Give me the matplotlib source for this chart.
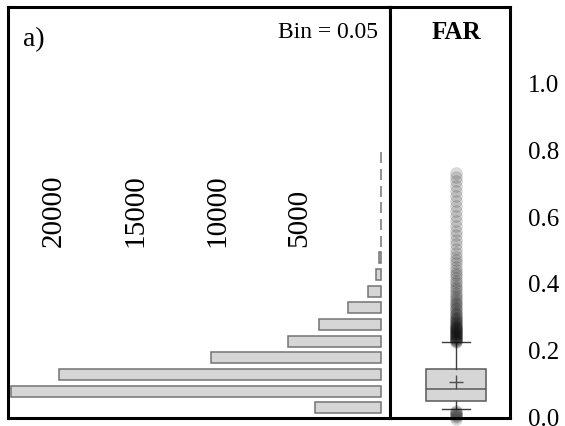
import matplotlib
matplotlib.use('Agg')
import matplotlib.pyplot as plt

plt.rcParams['font.family'] = ['Liberation Serif', 'DejaVu Serif']

# histogram of FAR, bin = 0.05
bin_centers = [0.025, 0.075, 0.125, 0.175, 0.225, 0.275, 0.325, 0.375,
               0.425, 0.475, 0.525, 0.575, 0.625, 0.675, 0.725, 0.775]
counts = [4050, 22600, 19700, 10400, 5700, 3800, 2000, 800,
          300, 100, 25, 15, 10, 6, 4, 2]
count_ticks = [20000, 15000, 10000, 5000]

# box plot summary of FAR
box_q1 = 0.045
box_med = 0.081
box_q3 = 0.141
box_mean = 0.102
whisker_lo = 0.021
whisker_hi = 0.222
fliers_hi = [0.222, 0.224, 0.226, 0.228, 0.230, 0.232, 0.234, 0.236, 0.238,
             0.240, 0.242, 0.244, 0.246, 0.248, 0.250, 0.252, 0.254, 0.256,
             0.258, 0.260, 0.262, 0.264, 0.266, 0.268, 0.270, 0.272, 0.275,
             0.278, 0.281, 0.284, 0.287, 0.290, 0.294, 0.298, 0.302, 0.306,
             0.310, 0.315, 0.320, 0.325, 0.330, 0.335, 0.340, 0.346, 0.352,
             0.358, 0.364, 0.370, 0.377, 0.384, 0.391, 0.398, 0.406, 0.414,
             0.422, 0.430, 0.439, 0.448, 0.458, 0.468, 0.478, 0.490, 0.502,
             0.515, 0.528, 0.542, 0.556, 0.570, 0.585, 0.600, 0.615, 0.630,
             0.645, 0.660, 0.675, 0.690, 0.705, 0.718, 0.730]
fliers_lo = [0.016, 0.013, 0.010, 0.007, 0.004, 0.001, -0.003, -0.008]
y_ticks = [0.0, 0.2, 0.4, 0.6, 0.8, 1.0]

fig = plt.figure(figsize=(5.65, 4.27), dpi=100)
ax1 = fig.add_axes([8 / 565, 8 / 427, 382 / 565, 411 / 427])
ax2 = fig.add_axes([390 / 565, 8 / 427, 120 / 565, 411 / 427], sharey=ax1)

ylim = (-0.006, 1.228)

# left: horizontal histogram growing to the left
ax1.barh(bin_centers, counts, height=0.033, color='#d6d6d6',
         edgecolor='0.45', linewidth=1.1)
ax1.set_xlim(22800, -550)
ax1.set_ylim(*ylim)
ax1.set_xticks([])
ax1.tick_params(axis='y', left=False, labelleft=False)
for t in count_ticks:
    ax1.text(t, 0.418, str(t), transform=ax1.get_xaxis_transform(),
             rotation=90, ha='center', va='bottom', fontsize=21)
ax1.text(0.04, 0.922, 'a)', transform=ax1.transAxes, fontsize=20,
         ha='left', va='center')
ax1.text(0.969, 0.94, 'Bin = 0.05', transform=ax1.transAxes, fontsize=17,
         ha='right', va='center')

# right: box plot
stats = [dict(med=box_med, q1=box_q1, q3=box_q3, mean=box_mean,
              whislo=whisker_lo, whishi=whisker_hi,
              fliers=fliers_hi + fliers_lo)]
ax2.bxp(stats, positions=[1], widths=0.55, capwidths=0.26, showmeans=True,
        patch_artist=True,
        boxprops=dict(facecolor='#d6d6d6', edgecolor='0.35', linewidth=1.1),
        medianprops=dict(color='0.35', linewidth=1.1),
        whiskerprops=dict(color='0.25', linewidth=1.0),
        capprops=dict(color='0.25', linewidth=1.0),
        meanprops=dict(marker='+', markersize=10, markeredgecolor='0.3',
                       markeredgewidth=1.0),
        flierprops=dict(marker='o', markersize=8.5, markerfacecolor='0.05',
                        markeredgecolor='0.05', markeredgewidth=0.4,
                        alpha=0.14, clip_on=False))
ax2.set_xlim(0.395, 1.495)
ax2.set_ylim(*ylim)
ax2.set_xticks([])
ax2.yaxis.tick_right()
ax2.set_yticks(y_ticks)
ax2.set_yticklabels([f'{v:.1f}' for v in y_ticks])
ax2.tick_params(axis='y', length=0, pad=13, labelsize=18, left=False)
ax2.text(0.55, 0.94, 'FAR', transform=ax2.transAxes, fontsize=18,
         fontweight='bold', ha='center', va='center')

for ax in (ax1, ax2):
    for s in ax.spines.values():
        s.set_linewidth(2.2)

fig.savefig('out.png', dpi=100)
